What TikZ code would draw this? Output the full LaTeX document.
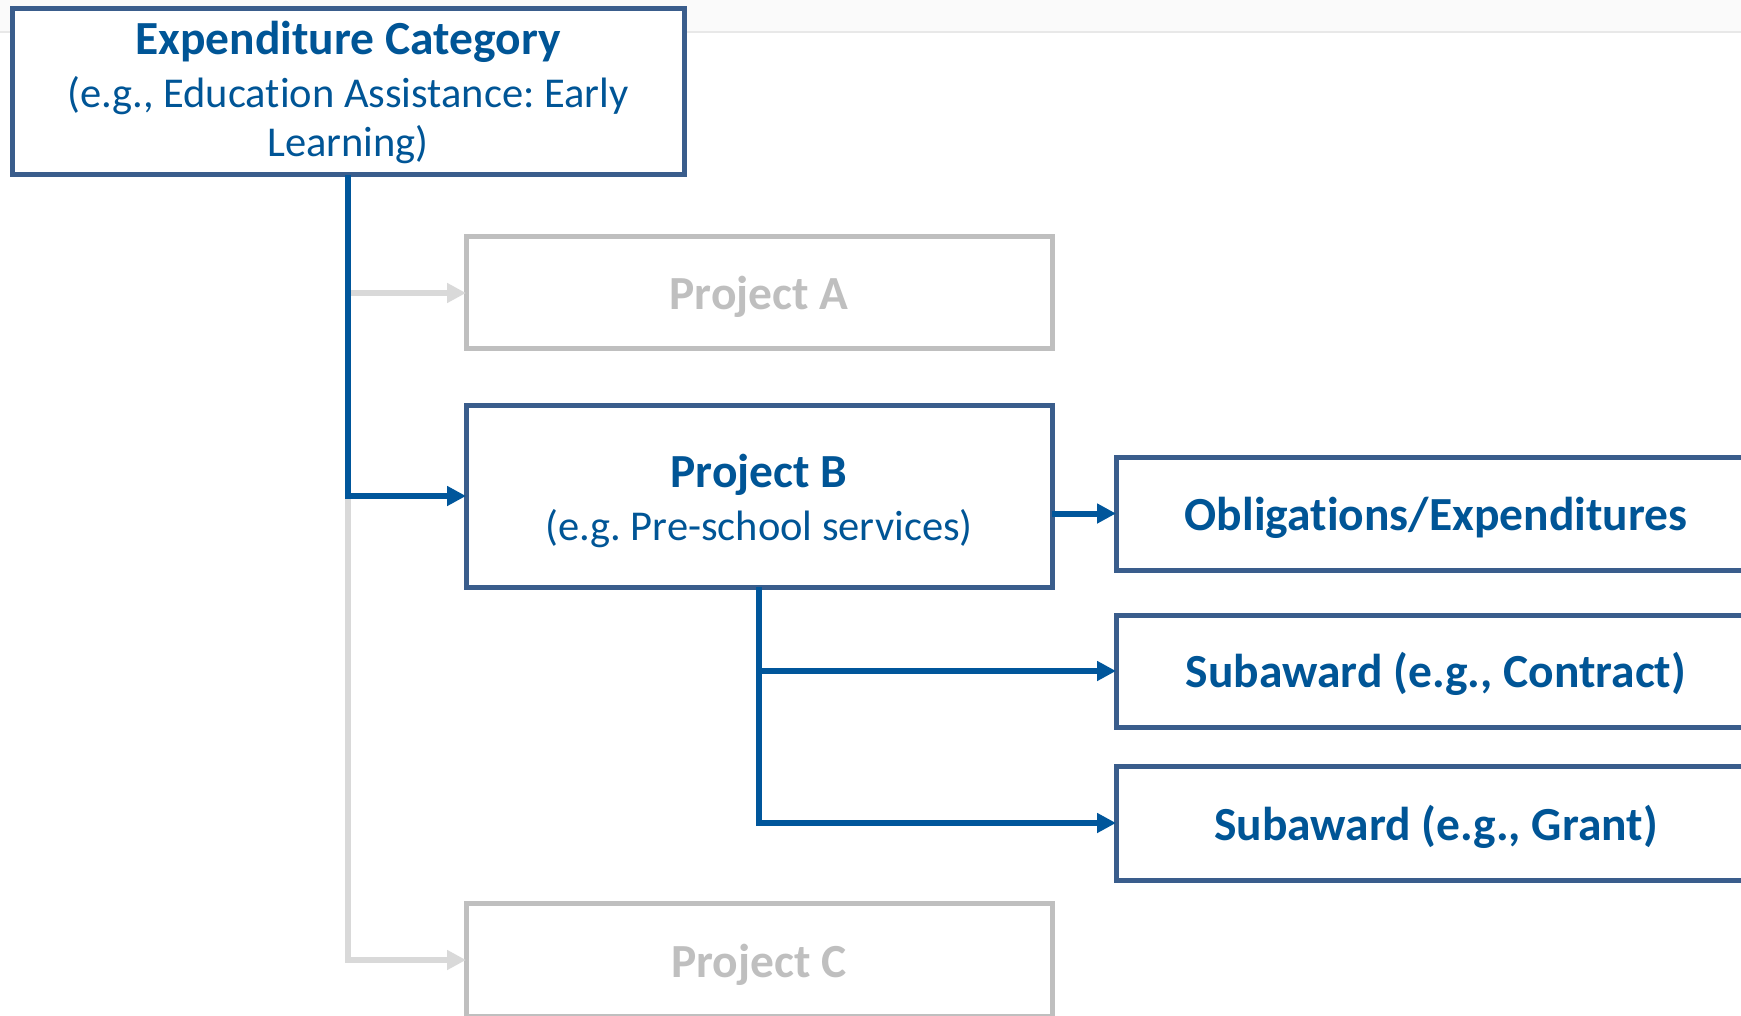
\documentclass[tikz,border=0pt]{standalone}
\usepackage{fontspec}
\setmainfont{Carlito}[Ligatures={NoCommon}]
\usetikzlibrary{arrows.meta}
\definecolor{txtblue}{RGB}{0,85,150}
\definecolor{boxblue}{RGB}{58,93,140}
\definecolor{lineblue}{RGB}{0,86,155}
\definecolor{boxgray}{RGB}{191,191,191}
\definecolor{txtgray}{RGB}{191,191,191}
\definecolor{linegray}{RGB}{217,217,217}
\definecolor{bandgray}{RGB}{250,250,250}
\definecolor{topline}{RGB}{232,232,232}
\frenchspacing
\begin{document}
\frenchspacing
\begin{tikzpicture}[x=1pt,y=-1pt,
  bbox/.style={draw=boxblue, line width=5pt, fill=white, rectangle, inner sep=0pt, outer sep=0pt},
  gbox/.style={draw=boxgray, line width=5pt, fill=white, rectangle, inner sep=0pt, outer sep=0pt},
  btitle/.style={text=txtblue, font=\fontsize{47.5}{57}\selectfont\bfseries, inner sep=0pt, anchor=base},
  bsub/.style={text=txtblue, font=\fontsize{42.5}{51}\selectfont, inner sep=0pt, anchor=base},
  gtitle/.style={text=txtgray, font=\fontsize{47.5}{57}\selectfont\bfseries, inner sep=0pt, anchor=base},
  conn/.style={draw=lineblue, line width=6pt, line join=miter, -{Triangle[length=19pt,width=19pt]}},
  gconn/.style={draw=linegray, line width=6pt, line join=miter, -{Triangle[length=19pt,width=19pt]}}
]
\useasboundingbox (0,0) rectangle (1741,1016);
\fill[bandgray] (0,0) rectangle (1741,32);
\draw[topline, line width=1.2pt] (0,32) -- (1741,32);

% boxes
\node[bbox, minimum width=672pt, minimum height=166pt] (exp) at (348,92) {};
\node[gbox, minimum width=586pt, minimum height=112pt] (pa) at (759,293) {};
\node[bbox, minimum width=586pt, minimum height=182pt] (pb) at (759,496) {};
\node[gbox, minimum width=586pt, minimum height=113pt] (pc) at (759,960) {};
\node[bbox, minimum width=640pt, minimum height=113pt] (ob) at (1436,513.5) {};
\node[bbox, minimum width=640pt, minimum height=112pt] (ct) at (1436,671) {};
\node[bbox, minimum width=640pt, minimum height=114pt] (gr) at (1436,823) {};

% texts
\node[btitle] (expt1) at (348,55) {Expenditure Category};
\node[bsub] (expt2) at (348,108) {(e.g., Education Assistance: Early};
\node[bsub] (expt3) at (348,157) {Learning)};
\node[gtitle] (pat) at (759,310) {Project A};
\node[btitle] (pbt1) at (759,487) {Project B};
\node[bsub] (pbt2) at (759,540) {(e.g. Pre-school services)};
\node[gtitle] (pct) at (759,977) {Project C};
\node[btitle] (obt) at (1436,530) {Obligations/Expenditures};
\node[btitle] (ctt) at (1436,687) {Subaward (e.g., Contract)};
\node[btitle] (grt) at (1436,840) {Subaward (e.g., Grant)};

% connectors
\draw[gconn] (exp.south |- pa.west) -- (pa.west);
\draw[gconn] (exp.south |- pb.west) |- (pc.west);
\draw[conn] (exp.south) |- (pb.west);
\draw[conn] (pb.east |- ob.west) -- (ob.west);
\draw[conn] (pb.south) |- (ct.west);
\draw[conn] (pb.south) |- (gr.west);
\end{tikzpicture}
\end{document}
